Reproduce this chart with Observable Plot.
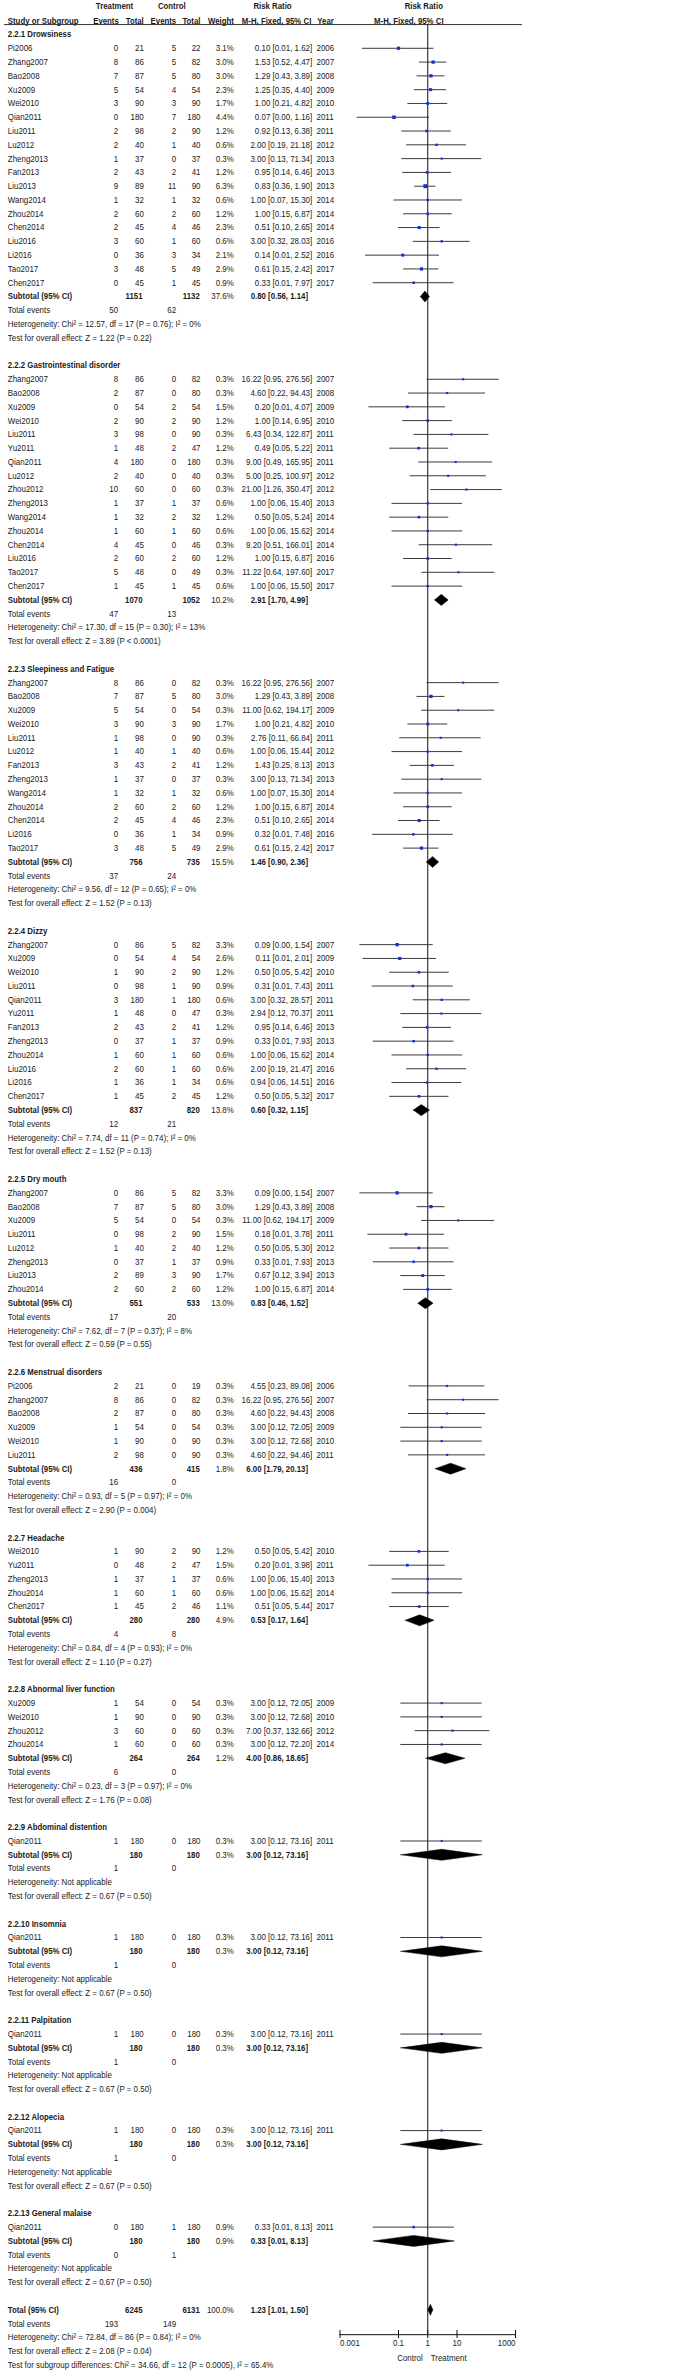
<!DOCTYPE html>
<html><head><meta charset="utf-8">
<script src="https://cdn.jsdelivr.net/npm/d3@7"></script>
<script src="https://cdn.jsdelivr.net/npm/@observablehq/plot@0.6"></script>
<style>html,body{margin:0;padding:0;background:#fff}svg{display:block}</style>
</head><body><div id="chart"></div>
<script>
// ---------------- DATA ----------------
const groupNames = ["2.2.1 Drowsiness","2.2.2 Gastrointestinal disorder","2.2.3 Sleepiness and Fatigue","2.2.4 Dizzy","2.2.5 Dry mouth","2.2.6 Menstrual disorders","2.2.7 Headache","2.2.8 Abnormal liver function","2.2.9 Abdominal distention","2.2.10 Insomnia","2.2.11 Palpitation","2.2.12 Alopecia","2.2.13 General malaise"];

const studyName = [
"Pi2006","Zhang2007","Bao2008","Xu2009","Wei2010","Qian2011","Liu2011","Lu2012","Zheng2013","Fan2013","Liu2013","Wang2014","Zhou2014","Chen2014","Liu2016","Li2016","Tao2017","Chen2017",
"Zhang2007","Bao2008","Xu2009","Wei2010","Liu2011","Yu2011","Qian2011","Lu2012","Zhou2012","Zheng2013","Wang2014","Zhou2014","Chen2014","Liu2016","Tao2017","Chen2017",
"Zhang2007","Bao2008","Xu2009","Wei2010","Liu2011","Lu2012","Fan2013","Zheng2013","Wang2014","Zhou2014","Chen2014","Li2016","Tao2017",
"Zhang2007","Xu2009","Wei2010","Liu2011","Qian2011","Yu2011","Fan2013","Zheng2013","Zhou2014","Liu2016","Li2016","Chen2017",
"Zhang2007","Bao2008","Xu2009","Liu2011","Lu2012","Zheng2013","Liu2013","Zhou2014",
"Pi2006","Zhang2007","Bao2008","Xu2009","Wei2010","Liu2011",
"Wei2010","Yu2011","Zheng2013","Zhou2014","Chen2017",
"Xu2009","Wei2010","Zhou2012","Zhou2014",
"Qian2011","Qian2011","Qian2011","Qian2011","Qian2011"];
const groupSize = [18,16,13,12,8,6,5,4,1,1,1,1,1];

const tEvents = [0,8,7,5,3,0,2,2,1,2,9,1,2,2,3,0,3,0, 8,2,0,2,3,1,4,2,10,1,1,1,4,2,5,1, 8,7,5,3,1,1,3,1,1,2,2,0,3, 0,0,1,0,3,1,2,0,1,2,1,1, 0,7,5,0,1,0,2,2, 2,8,2,1,1,2, 1,0,1,1,1, 1,1,3,1, 1,1,1,1,0];
const tTotal = [21,86,87,54,90,180,98,40,37,43,89,32,60,45,60,36,48,45, 86,87,54,90,98,48,180,40,60,37,32,60,45,60,48,45, 86,87,54,90,98,40,43,37,32,60,45,36,48, 86,54,90,98,180,48,43,37,60,60,36,45, 86,87,54,98,40,37,89,60, 21,86,87,54,90,98, 90,48,37,60,45, 54,90,60,60, 180,180,180,180,180];
const cEvents = [5,5,5,4,3,7,2,1,0,2,11,1,2,4,1,3,5,1, 0,0,2,2,0,2,0,0,0,1,2,1,0,2,0,1, 0,5,0,3,0,1,2,0,1,2,4,1,5, 5,4,2,1,1,0,2,1,1,1,1,2, 5,5,0,2,2,1,3,2, 0,0,0,0,0,0, 2,2,1,1,2, 0,0,0,0, 0,0,0,0,1];
const cTotal = [22,82,80,54,90,180,90,40,37,41,90,32,60,46,60,34,49,45, 82,80,54,90,90,47,180,40,60,37,32,60,46,60,49,45, 82,80,54,90,90,40,41,37,32,60,46,34,49, 82,54,90,90,180,47,41,37,60,60,34,45, 82,80,54,90,40,37,90,60, 19,82,80,54,90,90, 90,47,37,60,46, 54,90,60,60, 180,180,180,180,180];
const weight = [3.1,3.0,3.0,2.3,1.7,4.4,1.2,0.6,0.3,1.2,6.3,0.6,1.2,2.3,0.6,2.1,2.9,0.9, 0.3,0.3,1.5,1.2,0.3,1.2,0.3,0.3,0.3,0.6,1.2,0.6,0.3,1.2,0.3,0.6, 0.3,3.0,0.3,1.7,0.3,0.6,1.2,0.3,0.6,1.2,2.3,0.9,2.9, 3.3,2.6,1.2,0.9,0.6,0.3,1.2,0.9,0.6,0.6,0.6,1.2, 3.3,3.0,0.3,1.5,1.2,0.9,1.7,1.2, 0.3,0.3,0.3,0.3,0.3,0.3, 1.2,1.5,0.6,0.6,1.1, 0.3,0.3,0.3,0.3, 0.3,0.3,0.3,0.3,0.9];
const rr = [0.10,1.53,1.29,1.25,1.00,0.07,0.92,2.00,3.00,0.95,0.83,1.00,1.00,0.51,3.00,0.14,0.61,0.33, 16.22,4.60,0.20,1.00,6.43,0.49,9.00,5.00,21.00,1.00,0.50,1.00,9.20,1.00,11.22,1.00, 16.22,1.29,11.00,1.00,2.76,1.00,1.43,3.00,1.00,1.00,0.51,0.32,0.61, 0.09,0.11,0.50,0.31,3.00,2.94,0.95,0.33,1.00,2.00,0.94,0.50, 0.09,1.29,11.00,0.18,0.50,0.33,0.67,1.00, 4.55,16.22,4.60,3.00,3.00,4.60, 0.50,0.20,1.00,1.00,0.51, 3.00,3.00,7.00,3.00, 3.00,3.00,3.00,3.00,0.33];
const lo = [0.0058,0.52,0.43,0.35,0.21,0.0039,0.13,0.19,0.13,0.14,0.36,0.07,0.15,0.10,0.32,0.0075,0.15,0.0137, 0.95,0.22,0.0097,0.14,0.34,0.05,0.49,0.25,1.26,0.06,0.05,0.06,0.51,0.15,0.64,0.06, 0.95,0.43,0.62,0.21,0.11,0.06,0.25,0.13,0.07,0.15,0.10,0.013,0.15, 0.0048,0.0062,0.05,0.0126,0.32,0.12,0.14,0.0137,0.06,0.19,0.06,0.05, 0.0048,0.43,0.62,0.009,0.05,0.0137,0.12,0.15, 0.23,0.95,0.22,0.12,0.12,0.22, 0.05,0.0097,0.06,0.06,0.05, 0.12,0.12,0.37,0.12, 0.12,0.12,0.12,0.12,0.0137];
const hi = [1.62,4.47,3.89,4.40,4.82,1.16,6.38,21.18,71.34,6.46,1.90,15.30,6.87,2.65,28.03,2.52,2.42,7.97, 276.56,94.43,4.07,6.95,122.87,5.22,165.95,100.97,350.47,15.40,5.24,15.62,166.01,6.87,197.60,15.50, 276.56,3.89,194.17,4.82,66.84,15.44,8.13,71.34,15.30,6.87,2.65,7.48,2.42, 1.54,2.01,5.42,7.43,28.57,70.37,6.46,7.93,15.62,21.47,14.51,5.32, 1.54,3.89,194.17,3.78,5.30,7.93,3.94,6.87, 89.08,276.56,94.43,72.05,72.68,94.46, 5.42,3.98,15.40,15.62,5.44, 72.05,72.68,132.66,72.20, 73.16,73.16,73.16,73.16,8.13];

const subT = [1151,1070,756,837,551,436,280,264,180,180,180,180,180];
const subC = [1132,1052,735,820,533,415,280,264,180,180,180,180,180];
const subW = [37.6,10.2,15.5,13.8,13.0,1.8,4.9,1.2,0.3,0.3,0.3,0.3,0.9];
const subRR = [0.80,2.91,1.46,0.60,0.83,6.00,0.53,4.00,3.00,3.00,3.00,3.00,0.33];
const subLo = [0.56,1.70,0.90,0.32,0.46,1.79,0.17,0.86,0.12,0.12,0.12,0.12,0.0137];
const subHi = [1.14,4.99,2.36,1.15,1.52,20.13,1.64,18.65,73.16,73.16,73.16,73.16,8.13];
const subEvT = [50,47,37,12,17,16,4,6,1,1,1,1,0];
const subEvC = [62,13,24,21,20,0,8,0,0,0,0,0,1];
const subHet = ["Chi\u00b2 = 12.57, df = 17 (P = 0.76); I\u00b2 = 0%","Chi\u00b2 = 17.30, df = 15 (P = 0.30); I\u00b2 = 13%","Chi\u00b2 = 9.56, df = 12 (P = 0.65); I\u00b2 = 0%","Chi\u00b2 = 7.74, df = 11 (P = 0.74); I\u00b2 = 0%","Chi\u00b2 = 7.62, df = 7 (P = 0.37); I\u00b2 = 8%","Chi\u00b2 = 0.93, df = 5 (P = 0.97); I\u00b2 = 0%","Chi\u00b2 = 0.84, df = 4 (P = 0.93); I\u00b2 = 0%","Chi\u00b2 = 0.23, df = 3 (P = 0.97); I\u00b2 = 0%","Not applicable","Not applicable","Not applicable","Not applicable","Not applicable"];
const subTest = ["Z = 1.22 (P = 0.22)","Z = 3.89 (P < 0.0001)","Z = 1.52 (P = 0.13)","Z = 1.52 (P = 0.13)","Z = 0.59 (P = 0.55)","Z = 2.90 (P = 0.004)","Z = 1.10 (P = 0.27)","Z = 1.76 (P = 0.08)","Z = 0.67 (P = 0.50)","Z = 0.67 (P = 0.50)","Z = 0.67 (P = 0.50)","Z = 0.67 (P = 0.50)","Z = 0.67 (P = 0.50)"];

const overall = [6245, 6131, 100.0, 1.23, 1.01, 1.50, 193, 149];
const overallHet = "Chi\u00b2 = 72.84, df = 86 (P = 0.84); I\u00b2 = 0%";
const overallTest = "Z = 2.08 (P = 0.04)";
const subgroupDiff = "Test for subgroup differences: Chi\u00b2 = 34.66, df = 12 (P = 0.0005), I\u00b2 = 65.4%";

const headerTop = ["Treatment","Control","Risk Ratio","Risk Ratio"];
const headerSub = ["Study or Subgroup","Events","Total","Events","Total","Weight","M-H, Fixed, 95% CI","Year","M-H, Fixed, 95% CI"];
const axisTicks = [0.001, 0.1, 1, 10, 1000];
const axisSides = ["Control","Treatment"];

// ---------------- BUILD ROWS ----------------
const fmtCI = (a,b,c) => `${a.toFixed(2)} [${b.toFixed(2)}, ${c.toFixed(2)}]`;
const fmtW = w => w.toFixed(1) + "%";
const rows = [], studies = [], diamonds = [];
let i = 0, k = 0;
groupNames.forEach((gname, g) => {
  rows.push({i, kind: "group", name: gname}); i++;
  for (let s = 0; s < groupSize[g]; s++, k++) {
    rows.push({i, kind: "study", name: studyName[k], tE: String(tEvents[k]), tT: String(tTotal[k]), cE: String(cEvents[k]), cT: String(cTotal[k]), w: fmtW(weight[k]), ci: fmtCI(rr[k], lo[k], hi[k]), yr: studyName[k].slice(-4)});
    studies.push({i, rr: rr[k], lo: lo[k], hi: hi[k], w: weight[k]});
    i++;
  }
  rows.push({i, kind: "sub", name: "Subtotal (95% CI)", tT: String(subT[g]), cT: String(subC[g]), w: fmtW(subW[g]), ci: fmtCI(subRR[g], subLo[g], subHi[g])});
  diamonds.push({i, rr: subRR[g], lo: subLo[g], hi: subHi[g], id: g}); i++;
  rows.push({i, kind: "events", name: "Total events", tE: String(subEvT[g]), cE: String(subEvC[g])}); i++;
  rows.push({i, kind: "note", name: "Heterogeneity: " + subHet[g]}); i++;
  rows.push({i, kind: "note", name: "Test for overall effect: " + subTest[g]}); i++;
  i++;
});
rows.push({i, kind: "sub", name: "Total (95% CI)", tT: String(overall[0]), cT: String(overall[1]), w: fmtW(overall[2]), ci: fmtCI(overall[3], overall[4], overall[5])});
diamonds.push({i, rr: overall[3], lo: overall[4], hi: overall[5], id: 99}); i++;
rows.push({i, kind: "events", name: "Total events", tE: String(overall[6]), cE: String(overall[7])}); i++;
rows.push({i, kind: "note", name: "Heterogeneity: " + overallHet}); i++;
rows.push({i, kind: "note", name: "Test for overall effect: " + overallTest}); i++;
rows.push({i, kind: "note", name: subgroupDiff});
const lastRow = i;

const H = 0.4; // diamond half height in rows
const diamondPts = diamonds.flatMap(d => [
  {id: d.id, x: d.lo, y: d.i}, {id: d.id, x: d.rr, y: d.i - H}, {id: d.id, x: d.hi, y: d.i},
  {id: d.id, x: d.rr, y: d.i + H}, {id: d.id, x: d.lo, y: d.i}]);

// ---------------- LAYOUT ----------------
const FONT = '"Liberation Sans","Arial",sans-serif';
const FS = 9;
const ROW0 = 34, ROWH = 13.79;
const HEAD1 = -2.03, HEAD2 = -1.0, ULINE = -0.72, AXROW = 166.8;
const INK = "#1a1a1a";

function col(data, key, x, anchor, bold) {
  return Plot.text(data.filter(d => d[key] != null), {
    text: key, y: "i", frameAnchor: "left", dx: x, textAnchor: anchor,
    fontWeight: bold ? "bold" : "normal", fill: INK, fontSize: FS
  });
}
const normalRows = rows.filter(d => d.kind === "study" || d.kind === "events" || d.kind === "note");
const boldRows = rows.filter(d => d.kind === "group" || d.kind === "sub");
const subRows = rows.filter(d => d.kind === "sub");
const head1 = headerTop.map((t, j) => ({t, j, i: HEAD1}));
const head2 = headerSub.map((t, j) => ({t, j, i: HEAD2}));
const h1x = [114, 171.3, 272, 423.3];
const h2x = [7.3, 118.3, 143.3, 175.7, 200, 233.3, 310.8, 316.8, 408.3];
const h2a = ["start","end","end","end","end","end","end","start","middle"];

const headMarks = [
  ...head1.map(d => Plot.text([d], {text: "t", y: "i", frameAnchor: "left", dx: h1x[d.j], textAnchor: "middle", fontWeight: "bold", fill: INK, fontSize: FS})),
  ...head2.map(d => Plot.text([d], {text: "t", y: "i", frameAnchor: "left", dx: h2x[d.j], textAnchor: h2a[d.j], fontWeight: "bold", fill: INK, fontSize: FS}))
];

const chart = Plot.plot({
  width: 685, height: 2370,
  marginLeft: 0, marginRight: 163, marginTop: 0, marginBottom: 2370 - 2334,
  style: {fontFamily: FONT, fontSize: FS + "px", background: "white", color: INK},
  x: {type: "log", domain: [0.001, 1000], range: [339.5, 515]},
  y: {type: "linear", domain: [0, lastRow], range: [ROW0, ROW0 + lastRow * ROWH], axis: null},
  r: {type: "linear", domain: [0, 10], range: [0, 10]},
  marks: [
    ...headMarks,
    Plot.ruleY([ULINE], {stroke: "#333", strokeWidth: 1, insetLeft: 4}),
    Plot.ruleX([1], {y1: ULINE, y2: AXROW, stroke: "#111", strokeWidth: 1}),
    // table text
    col(normalRows, "name", 7.3, "start", false),
    col(boldRows, "name", 7.3, "start", true),
    col(normalRows, "tE", 117.7, "end", false),
    col(normalRows, "tT", 143.3, "end", false),
    col(boldRows, "tT", 142, "end", true),
    col(normalRows, "cE", 175.7, "end", false),
    col(normalRows, "cT", 200, "end", false),
    col(boldRows, "cT", 199.3, "end", true),
    col(normalRows, "w", 233.3, "end", false),
    col(subRows, "w", 233.3, "end", false),
    col(normalRows, "ci", 311.7, "end", false),
    col(boldRows, "ci", 307.5, "end", true),
    col(normalRows, "yr", 316, "start", false),
    // forest
    Plot.ruleY(studies, {y: "i", x1: "lo", x2: "hi", stroke: "#3a3a3a", strokeWidth: 1}),
    Plot.dot(studies, {x: "rr", y: "i", symbol: "square", r: d => (1.6 + 0.95 * Math.sqrt(d.w)) / Math.sqrt(Math.PI), fill: "#1030e0", stroke: null}),
    Plot.line(diamondPts, {x: "x", y: "y", z: "id", fill: "black", stroke: "black", strokeWidth: 0.5}),
    // axis
    Plot.ruleY([AXROW], {x1: axisTicks[0], x2: axisTicks[axisTicks.length - 1], stroke: "#111", strokeWidth: 1}),
    Plot.axisX({ticks: axisTicks.slice(1, -1), anchor: "bottom", tickSize: 8, dy: -4, tickPadding: 1, tickFormat: d => String(d), fontSize: FS, stroke: "#111", fill: INK}),
    Plot.axisX({ticks: axisTicks.slice(0, 1), anchor: "bottom", tickSize: 8, dy: -4, tickPadding: 1, tickFormat: d => String(d), textAnchor: "start", fontSize: FS, stroke: "#111", fill: INK}),
    Plot.axisX({ticks: axisTicks.slice(-1), anchor: "bottom", tickSize: 8, dy: -4, tickPadding: 1, tickFormat: d => String(d), textAnchor: "end", fontSize: FS, stroke: "#111", fill: INK}),
    Plot.text([axisSides[0]], {x: 1, y: () => AXROW + 1.7, text: d => d, textAnchor: "end", dx: -5, fill: INK, fontSize: FS}),
    Plot.text([axisSides[1]], {x: 1, y: () => AXROW + 1.7, text: d => d, textAnchor: "start", dx: 3, fill: INK, fontSize: FS})
  ]
});
document.getElementById("chart").appendChild(chart);

// Condense glyphs horizontally to match the narrow typeface of the original
(function condense() {
  const svg = d3.select(chart);
  const measure = (str, bold) => {
    const t = svg.append("text").attr("font-size", FS).attr("font-family", FONT)
      .attr("font-weight", bold ? "bold" : "normal").text(str);
    const L = t.node().getComputedTextLength(); t.remove(); return L;
  };
  const fN = 193 / measure("Heterogeneity: " + subHet[0], false);
  const fB = 112.5 / measure(groupNames[1], true);
  svg.selectAll("text").each(function () {
    if (!this.textContent) return;
    const bold = parseInt(getComputedStyle(this).fontWeight, 10) >= 600;
    const L = this.getComputedTextLength();
    this.setAttribute("textLength", (L * (bold ? fB : fN)).toFixed(2));
    this.setAttribute("lengthAdjust", "spacingAndGlyphs");
  });
})();
</script>
</body></html>
